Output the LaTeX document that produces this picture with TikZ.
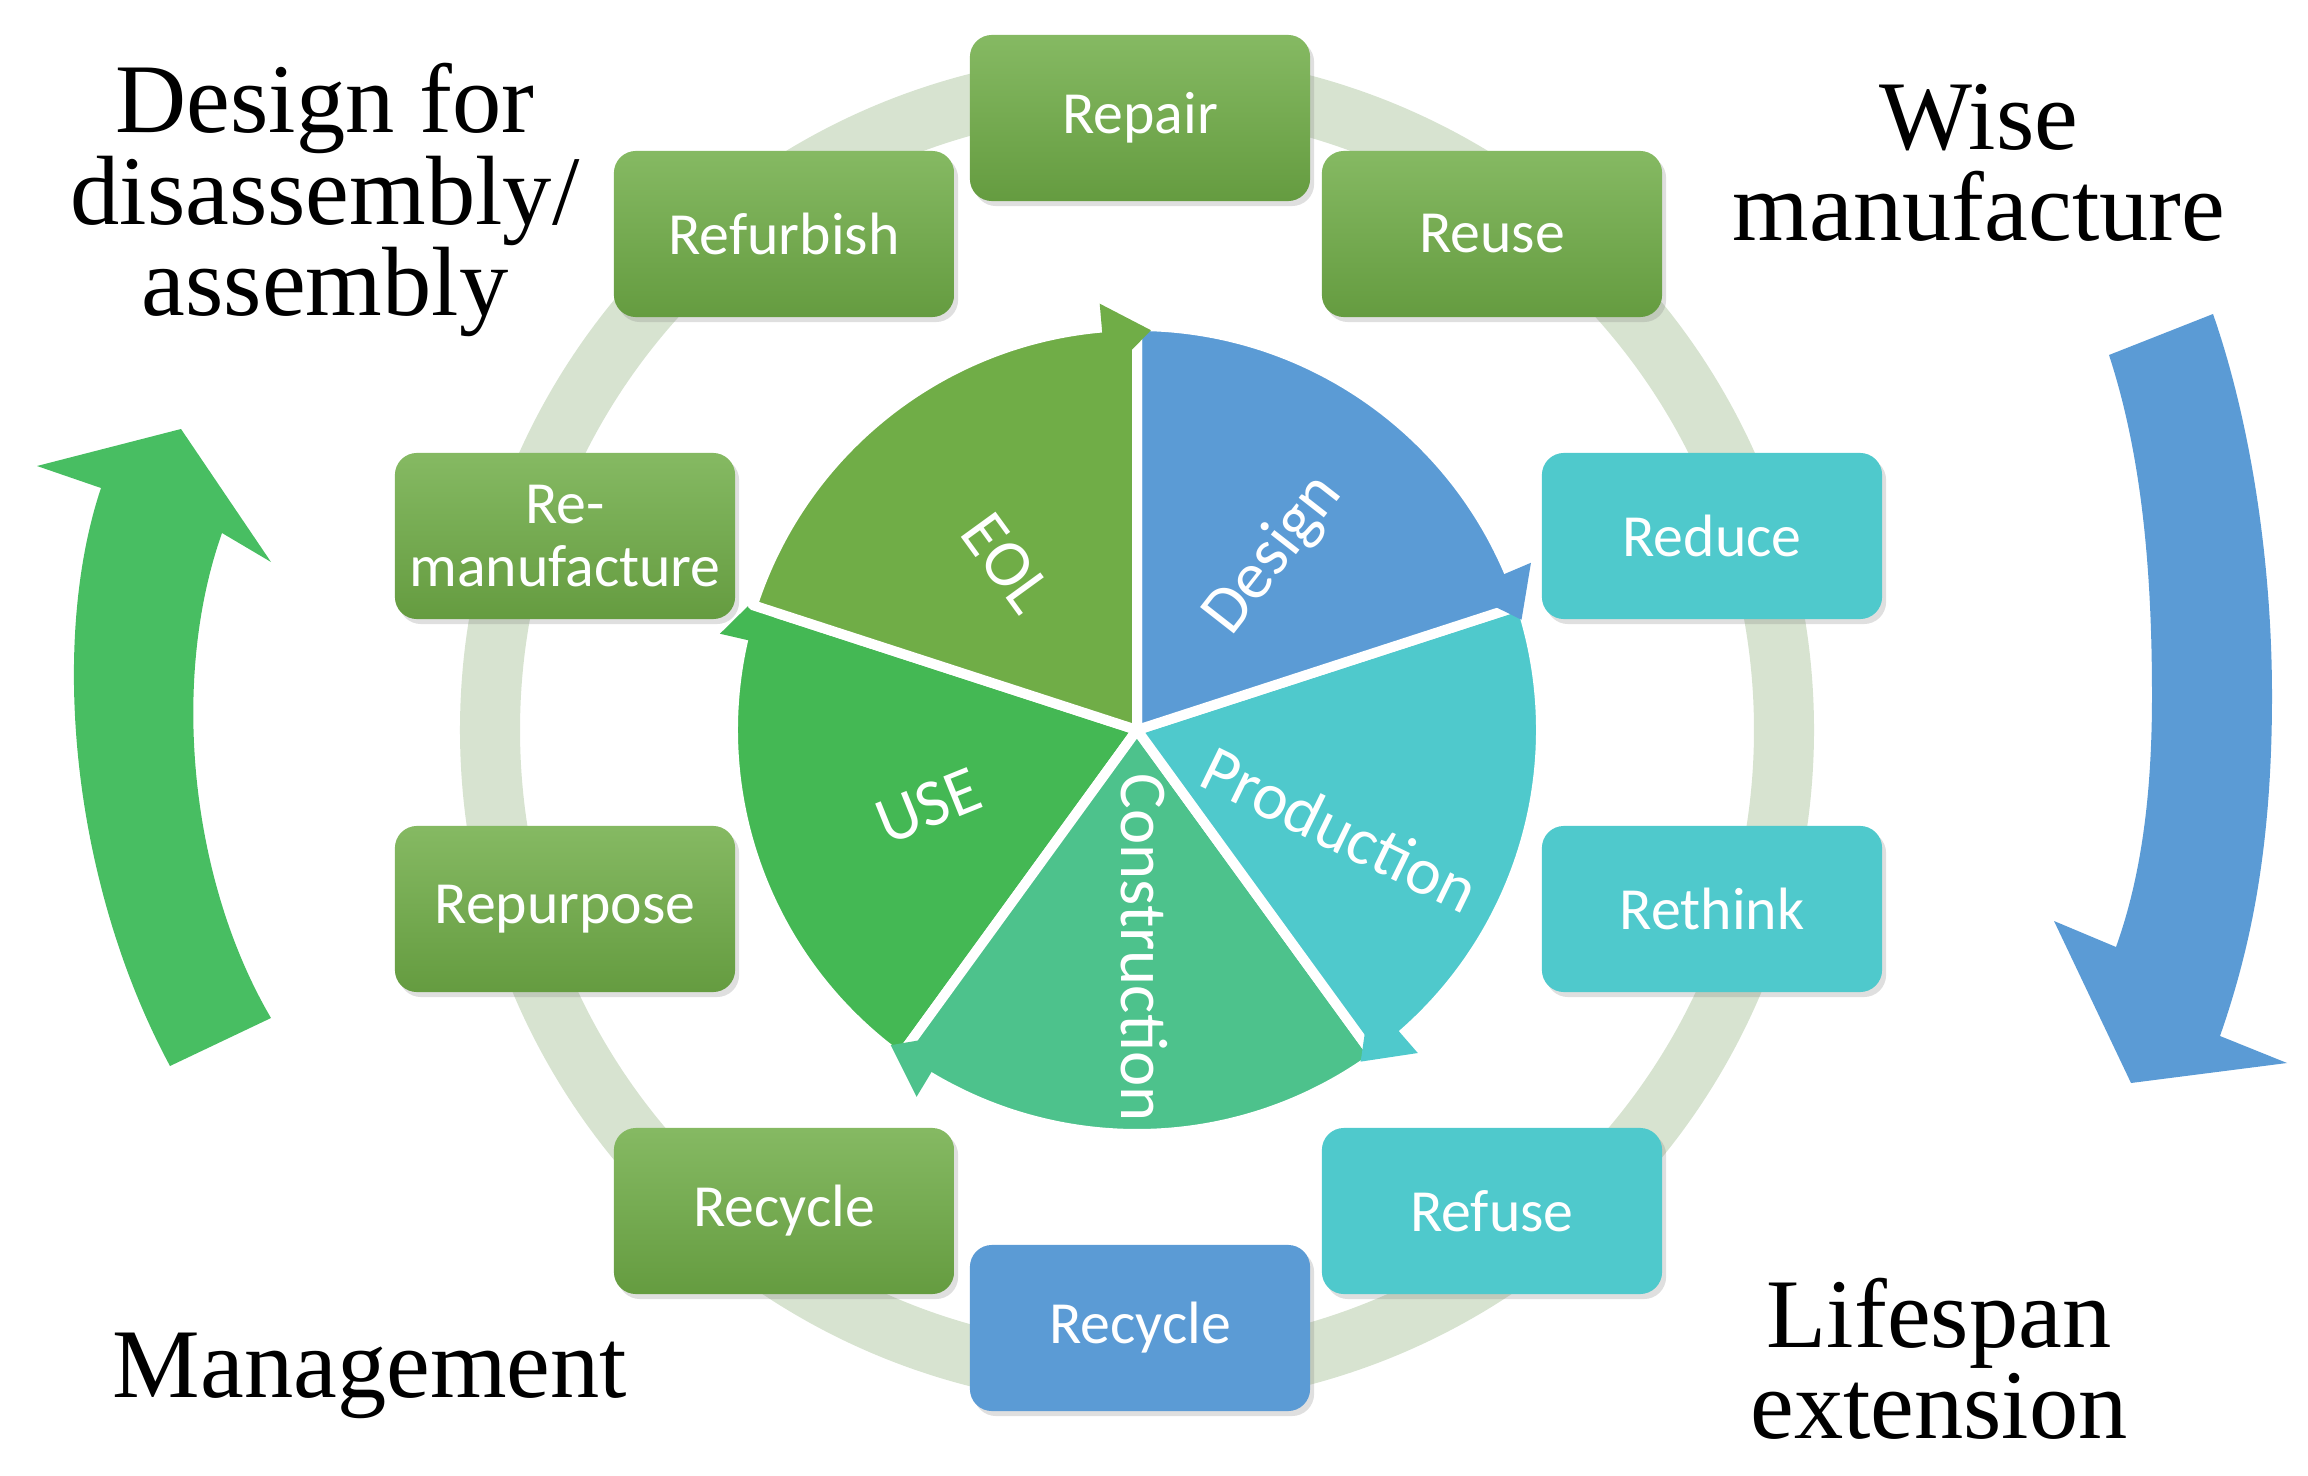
\documentclass[tikz,border=0pt]{standalone}
\usepackage{fontspec}
\setmainfont{Liberation Serif}
\newfontfamily\boxfont{Carlito}
\usetikzlibrary{shadows}
\definecolor{eolgreen}{HTML}{70AD47}
\definecolor{usegreen}{HTML}{44B854}
\definecolor{congreen}{HTML}{4DC28C}
\definecolor{procyan}{HTML}{4FC9CC}
\definecolor{desblue}{HTML}{5B9BD5}
\definecolor{arrgreen}{HTML}{48BE62}
\definecolor{ringgrey}{HTML}{D7E3D0}
\tikzset{
  stage/.style={rectangle, rounded corners=0.22cm, minimum width=3.4cm, minimum height=1.66cm,
    text=white, font=\boxfont\fontsize{17}{18}\selectfont, align=center,
    drop shadow={opacity=0.25, shadow xshift=0.04cm, shadow yshift=-0.05cm}},
  greenbox/.style={stage, top color=eolgreen!85!white, bottom color=eolgreen!90!black},
  cyanbox/.style={stage, fill=procyan},
  bluebox/.style={stage, fill=desblue},
  sector/.style={draw=white, line width=0.1cm, line join=round},
  seclabel/.style={text=white, font=\boxfont\fontsize{19}{21}\selectfont},
  sidetext/.style={font=\fontsize{28}{30}\selectfont, align=center}
}
\begin{document}
\begin{tikzpicture}[x=0.01cm, y=-0.01cm]
\useasboundingbox (0,0) rectangle (2308,1476);

% ring
\draw[ringgrey, line width=0.6cm] (1137,730) circle (647);

% wheel
\begin{scope}[shift={(1137,730)}, yscale=-1]
    \fill[usegreen, sector] (0,0) -- (234:404) arc (234:162:404) -- cycle;
    \fill[usegreen] (167:355) -- (160:400) -- (167:428) -- cycle;
    \fill[congreen, sector] (0,0) -- (306:404) arc (306:234:404) -- cycle;
    \fill[congreen] (239:355) -- (232:400) -- (239:428) -- cycle;
    \fill[procyan, sector] (0,0) -- (18:404) arc (18:-54:404) -- cycle;
    \fill[procyan] (-49:355) -- (-56:400) -- (-49:428) -- cycle;
    \fill[desblue, sector] (0,0) -- (90:404) arc (90:18:404) -- cycle;
    \fill[desblue] (23:355) -- (16:400) -- (23:428) -- cycle;
    \fill[eolgreen, sector] (0,0) -- (162:404) arc (162:90:404) -- cycle;
    \fill[eolgreen] (95:355) -- (88:400) -- (95:428) -- cycle;

    \node[seclabel, rotate=52] (design) at (52:222) {Design};
    \node[seclabel, rotate=-26] (production) at (-26:226) {Production};
    \node[seclabel, rotate=-90] (construction) at (-88:218) {Construction};
    \node[seclabel, rotate=22] (use) at (200:222) {USE};
    \node[seclabel, rotate=-54] (eol) at (128:212) {EOL};
\end{scope}

% boxes around the ring
\node[greenbox] (repair) at (1140,118) {Repair};
\node[greenbox] (reuse) at (1492,234) {Reuse};
\node[greenbox] (refurbish) at (784,234) {Refurbish};
\node[greenbox] (reman) at (565,536) {Re-\\manufacture};
\node[greenbox] (repurpose) at (565,909) {Repurpose};
\node[greenbox] (recyclea) at (784,1211) {Recycle};
\node[bluebox] (recycleb) at (1140,1328) {Recycle};
\node[cyanbox] (refuse) at (1492,1211) {Refuse};
\node[cyanbox] (rethink) at (1712,909) {Rethink};
\node[cyanbox] (reduce) at (1712,536) {Reduce};

% big arrows
\fill[arrgreen] (170,1066) .. controls (70,880) and (50,640) .. (101,488)
    -- (37,466) -- (181,429) -- (271,562) -- (222,533)
    .. controls (170,680) and (190,880) .. (271,1018) -- cycle;
\fill[desblue] (2109,355) -- (2213,314)
    .. controls (2250,420) and (2272,560) .. (2272,696)
    .. controls (2272,850) and (2250,950) .. (2220,1036)
    -- (2287,1063) -- (2131,1083) -- (2054,921) -- (2116,947)
    .. controls (2140,880) and (2152,800) .. (2152,696)
    .. controls (2152,560) and (2140,450) .. cycle;

% side texts
\node[sidetext] (dfd) at (325,200) {Design for\\[-4pt]disassembly/\\[-4pt]assembly};
\node[sidetext] (wise) at (1979,163) {Wise\\[-4pt]manufacture};
\node[sidetext] (mgmt) at (370,1376) {Management};
\node[sidetext] (life) at (1939,1359) {Lifespan\\[-4pt]extension};
\end{tikzpicture}
\end{document}
